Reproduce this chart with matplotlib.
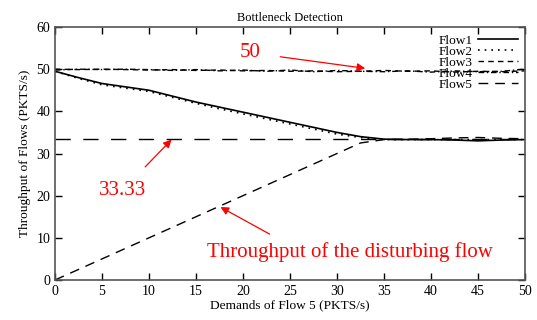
import matplotlib.pyplot as plt
import numpy as np

plt.rcParams['font.family'] = ['Liberation Serif', 'DejaVu Serif']

# demands of flow 5 (PKTS/s)
demand = [0, 2.5, 5, 7.5, 10, 12.5, 15, 17.5, 20, 22.5, 25,
          27.5, 30, 32.5, 35, 37.5, 40, 42.5, 45, 47.5, 50]

flow1 = [49.5, 48.0, 46.6, 45.8, 45.0, 43.6, 42.2, 41.0, 39.8, 38.6, 37.4,
         36.2, 35.0, 34.0, 33.4, 33.3, 33.3, 33.2, 33.0, 33.2, 33.3]
flow2 = [49.5, 47.8, 46.3, 45.5, 44.7, 43.3, 41.9, 40.6, 39.4, 38.2, 37.0,
         35.8, 34.6, 33.8, 33.3, 33.3, 33.3, 33.3, 33.3, 33.3, 33.3]
flow3 = [50.0, 49.9, 50.0, 49.9, 49.8, 49.9, 49.7, 49.8, 49.6, 49.7, 49.5,
         49.6, 49.4, 49.5, 49.7, 49.5, 49.6, 49.3, 49.5, 49.4, 49.6]
flow4 = [49.8, 50.0, 49.9, 50.0, 49.9, 49.7, 49.9, 49.6, 49.8, 49.5, 49.8,
         49.4, 49.7, 49.5, 49.4, 49.6, 49.3, 49.6, 49.4, 49.5, 50.0]
flow5 = [0.0, 2.5, 5.0, 7.5, 10.0, 12.5, 15.0, 17.5, 20.0, 22.5, 25.0,
         27.5, 30.0, 32.5, 33.3, 33.4, 33.5, 33.7, 33.8, 33.6, 33.5]
fair_share = 33.33

fig = plt.figure(figsize=(5.37, 3.2), dpi=100)
ax = fig.add_axes([0.1024, 0.125, 0.8753, 0.7906])

ax.plot(demand, flow1, color='black', lw=1.2, label='Flow1')
ax.plot(demand, flow2, color='black', lw=1.2, linestyle=(0, (1, 3)), label='Flow2')
ax.plot(demand, flow3, color='black', lw=1.0, linestyle=(0, (4, 3)), label='Flow3')
ax.plot(demand, flow4, color='black', lw=1.0, linestyle=(0, (4, 2, 1, 2)), label='Flow4')
ax.plot(demand, flow5, color='black', lw=1.0, linestyle=(0, (7, 5, 7, 5)), label='Flow5')
ax.axhline(fair_share, color='black', lw=1.0, linestyle=(0, (11, 9)))

ax.set_xlim(0, 50)
ax.set_ylim(0, 60)
ax.set_xticks(np.arange(0, 51, 5))
ax.set_yticks(np.arange(0, 61, 10))
ax.tick_params(direction='in', top=True, right=True, labelsize=10, length=5, width=1)
for s in ax.spines.values():
    s.set_color('#555555')
    s.set_linewidth(1.2)

ax.set_title('Bottleneck Detection', fontsize=9, pad=4)
ax.set_xlabel('Demands of Flow 5 (PKTS/s)', fontsize=9.6, labelpad=1)
ax.set_ylabel('Throughput of Flows (PKTS/s)', fontsize=9.6, labelpad=4)

leg = ax.legend(loc='upper right', frameon=False, markerfirst=False, fontsize=9.6,
                handlelength=3.0, labelspacing=-0.1, borderaxespad=0.15,
                handletextpad=0.4)

arrow = dict(arrowstyle='-|>', color='red', lw=0.9, mutation_scale=12)
ax.annotate('50', xy=(33, 50.2), xytext=(20.8, 53.9), color='red', fontsize=15,
            ha='center', va='center', arrowprops=dict(arrow, shrinkA=12, shrinkB=0))
ax.annotate('33.33', xy=(12.4, 33.3), xytext=(7.2, 21.3), color='red', fontsize=15,
            ha='center', va='center', arrowprops=dict(arrow, shrinkA=11, shrinkB=0))
ax.annotate('Throughput of the disturbing flow', xy=(17.6, 17.3), xytext=(31.4, 6.6),
            color='red', fontsize=15, ha='center', va='center',
            arrowprops=dict(arrow, shrinkA=8, shrinkB=0,
                            relpos=(0.27, 1.0)))

fig.savefig('out.png', dpi=100)
